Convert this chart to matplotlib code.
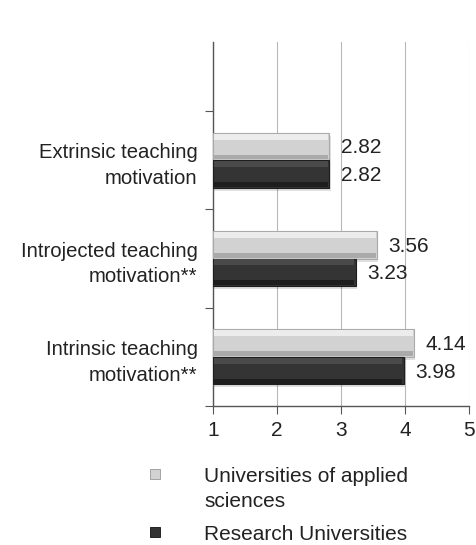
import numpy as np
import matplotlib
matplotlib.use("Agg")
import matplotlib.pyplot as plt
from matplotlib.patches import Rectangle

plt.rcParams['font.family'] = ['Liberation Sans', 'DejaVu Sans']

# data (bottom to top)
categories = ['Intrinsic teaching\nmotivation**',
              'Introjected teaching\nmotivation**',
              'Extrinsic teaching\nmotivation']
applied = [4.14, 3.56, 2.82]
research = [3.98, 3.23, 2.82]
series_names = ['Universities of applied\nsciences', 'Research Universities']
xticks = [1, 2, 3, 4, 5]

light = '#d2d2d2'
dark = '#343434'
fs = 15

fig = plt.figure(figsize=(4.77, 5.45), dpi=100)
ax = fig.add_axes([213/477, 1-406/545, (469-213)/477, (406-42)/545])

y = np.arange(len(categories))
h = 0.28
xmin = xticks[0]


def bevel_bars(ys, vals, color, hi, lo):
    w = np.array(vals) - xmin
    # shadow
    ax.barh(ys - 0.03, w, height=h, left=xmin + 0.02, color='#000000',
            alpha=0.12, zorder=2, linewidth=0)
    ax.barh(ys, w, height=h, left=xmin, color=color, zorder=3,
            edgecolor=lo, linewidth=0.8)
    # top highlight band and bottom darker band
    ax.barh(ys + h*0.36, w - 0.04, height=h*0.22, left=xmin + 0.02,
            color=hi, zorder=4, linewidth=0)
    ax.barh(ys - h*0.38, w - 0.04, height=h*0.18, left=xmin + 0.02,
            color=lo, zorder=4, linewidth=0)


bevel_bars(y + h/2, applied, light, '#ececec', '#aaaaaa')
bevel_bars(y - h/2, research, dark, '#4a4a4a', '#1e1e1e')

for yi, v in zip(y, applied):
    ax.annotate(f'{v:.2f}', (v, yi + h/2), xytext=(8, -1),
                textcoords='offset points', va='center', ha='left',
                fontsize=fs, color='#222222', zorder=5)
for yi, v in zip(y, research):
    ax.annotate(f'{v:.2f}', (v, yi - h/2), xytext=(8, -1),
                textcoords='offset points', va='center', ha='left',
                fontsize=fs, color='#222222', zorder=5)

ax.set_xlim(xticks[0], xticks[-1])
ax.set_ylim(-0.5, 2.5 + 69/98)
ax.set_xticks(xticks)
ax.set_xticklabels([str(t) for t in xticks], fontsize=fs, color='#222222')
ax.set_yticks(np.arange(-0.5, 3.0, 1.0))
ax.set_yticklabels([])
ax.set_yticks(y, minor=True)
ax.set_yticklabels(categories, minor=True, fontsize=14.6, color='#222222',
                   ha='right', multialignment='right', linespacing=1.45)
ax.tick_params(axis='y', which='minor', length=0, pad=11)
ax.tick_params(axis='y', which='major', length=6, direction='out',
               color='#555555')
ax.tick_params(axis='x', length=6, direction='out', color='#555555', pad=5)

ax.grid(axis='x', color='#b8b8b8', linewidth=0.8, zorder=0)
ax.set_axisbelow(True)
for s in ['top', 'right']:
    ax.spines[s].set_visible(False)
for s in ['left', 'bottom']:
    ax.spines[s].set_color('#555555')
    ax.spines[s].set_linewidth(1.0)

# legend, drawn by hand so the marker sits on the first text line
leg_items = [(series_names[0], light, '#999999', 474),
             (series_names[1], dark, '#111111', 532)]
for name, fc, ec, ypix in leg_items:
    fig.patches.append(Rectangle((150/477, 1-(ypix+5)/545), 10/477, 10/545,
                                 transform=fig.transFigure, facecolor=fc,
                                 edgecolor=ec, linewidth=0.6))
    fig.text(204/477, 1-(ypix-7)/545, name, fontsize=fs, color='#222222',
             va='top', ha='left', linespacing=1.4)

fig.savefig('out.png', dpi=100, facecolor='white')
